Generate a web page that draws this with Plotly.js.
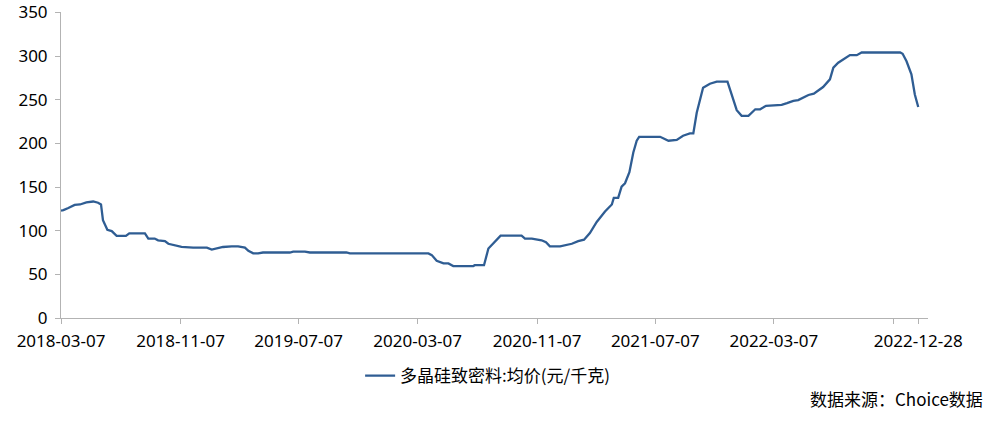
<!DOCTYPE html>
<html>
<head>
<meta charset="utf-8">
<script src="https://cdn.plot.ly/plotly-3.0.1.min.js"></script>
<style>html,body{margin:0;padding:0;background:#fff;}#chart{width:988px;height:421px;}</style>
</head>
<body>
<div id="chart"></div>
<script>
const dates = [
"2018-03-07","2018-03-12","2018-03-22","2018-04-04","2018-04-15","2018-04-28","2018-05-12","2018-05-22","2018-05-28","2018-06-01",
"2018-06-10","2018-06-19","2018-06-29","2018-07-12","2018-07-18","2018-07-25","2018-08-26","2018-09-02","2018-09-15","2018-09-22",
"2018-10-06","2018-10-13","2018-10-26","2018-11-09","2018-12-03","2018-12-31","2019-01-10","2019-01-20","2019-02-02","2019-02-20",
"2019-03-05","2019-03-19","2019-03-26","2019-04-05","2019-04-15","2019-04-25","2019-06-19","2019-06-26","2019-07-20","2019-07-30",
"2019-10-13","2019-10-20","2020-03-29","2020-04-05","2020-04-15","2020-04-29","2020-05-09","2020-05-19","2020-06-29","2020-07-02",
"2020-07-21","2020-07-30","2020-08-09","2020-08-24","2020-10-06","2020-10-13","2020-10-27","2020-11-03","2020-11-16","2020-11-25",
"2020-12-03","2020-12-24","2021-01-06","2021-01-17","2021-01-30","2021-02-11","2021-02-23","2021-03-09","2021-03-26","2021-04-09",
"2021-04-13","2021-04-22","2021-04-29","2021-05-06","2021-05-15","2021-05-23","2021-05-30","2021-06-04","2021-07-17","2021-08-03",
"2021-08-20","2021-09-02","2021-09-16","2021-09-23","2021-09-30","2021-10-13","2021-10-27","2021-11-10","2021-12-02","2021-12-11",
"2021-12-21","2021-12-31","2022-01-14","2022-01-28","2022-02-07","2022-02-19","2022-03-23","2022-04-03","2022-04-16","2022-04-26",
"2022-05-17","2022-05-28","2022-06-16","2022-06-30","2022-07-07","2022-07-17","2022-08-10","2022-08-24","2022-09-03","2022-11-21",
"2022-11-26","2022-12-04","2022-12-14","2022-12-21","2022-12-28"
];
const prices = [
123,123.5,126,129.5,130,132.5,133.4,132,130,112,
101,99.5,94,93.5,94,97,97,91,91,89,
88,85,83,81.5,80.6,80.6,78.3,79.5,81.3,82,
82,80.6,77,74,74,75,75,76,76,75,
75,74,74,72,65.5,62.5,62.5,59.5,59.5,60.5,
60.5,79.5,85,94.3,94.3,91,91,90,89,86.7,
82,82,84,85,88,89.7,97.3,110,122,130,
137.6,137.6,150.5,154.3,167,189.6,203,207.5,207.5,203,
204,208.7,211.3,211.3,235,263.7,268.3,270.6,270.6,256,
238,231.5,231.5,239,239,243,244,246,248.6,249.5,
255.4,257,264.5,273.3,286.6,292.3,301,301,304,304,
302.5,294,279,256,241.7
];
const seriesName = "多晶硅致密料:均价(元/千克)";
const tickDates = ["2018-03-07","2018-11-07","2019-07-07","2020-03-07","2020-11-07","2021-07-07","2022-03-07","2022-11-07","2022-12-28"];
const tickLabels = ["2018-03-07","2018-11-07","2019-07-07","2020-03-07","2020-11-07","2021-07-07","2022-03-07","","2022-12-28"];
const yTicks = [0,50,100,150,200,250,300,350];
const sourceText = "数据来源：Choice数据";

const fontFam = "'Noto Sans', 'Noto Sans CJK SC', sans-serif";
const cjkFam = "'Noto Sans CJK SC', sans-serif";
const trace = {
  x: dates, y: prices, type: "scatter", mode: "lines", name: seriesName,
  line: {color: "#2f5d93", width: 2.3}
};
const layout = {
  width: 988, height: 421,
  margin: {l: 61, r: 60, t: 12, b: 103},
  paper_bgcolor: "#ffffff", plot_bgcolor: "#ffffff",
  font: {family: fontFam, size: 17, color: "#000000"},
  showlegend: true,
  legend: {orientation: "h", x: 0.345, xanchor: "left", y: -0.19, yanchor: "middle",
           font: {family: cjkFam, size: 17, color: "#000"}},
  xaxis: {
    type: "date", range: ["2018-03-07", "2023-01-17"],
    tickmode: "array", tickvals: tickDates, ticktext: tickLabels,
    showgrid: false, zeroline: false, showline: true, linecolor: "#b3b3b3", linewidth: 1,
    ticks: "outside", ticklen: 5, tickcolor: "#b3b3b3", ticklabelstandoff: 3,
    tickfont: {family: fontFam, size: 17, color: "#000"}, tickangle: 0
  },
  yaxis: {
    range: [0, 350.4], tickmode: "array", tickvals: yTicks,
    showgrid: false, zeroline: false, showline: true, linecolor: "#b3b3b3", linewidth: 1,
    ticks: "outside", ticklen: 5, tickcolor: "#b3b3b3", ticklabelstandoff: 4,
    ticklabeloverflow: "allow",
    tickfont: {family: fontFam, size: 17, color: "#000"}
  },
  annotations: [{
    text: sourceText, xref: "paper", yref: "paper", x: 1.0657, y: -0.262,
    xanchor: "right", yanchor: "middle", showarrow: false,
    font: {family: cjkFam, size: 17, color: "#000"}
  }]
};
Plotly.newPlot("chart", [trace], layout, {displayModeBar: false, staticPlot: true});
</script>
</body>
</html>
